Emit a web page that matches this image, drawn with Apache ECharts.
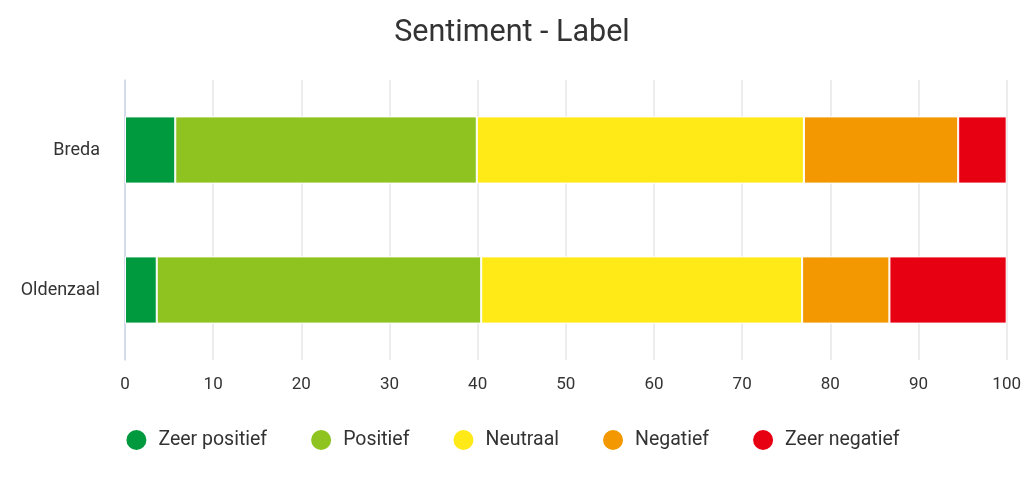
<!DOCTYPE html>
<html>
<head>
<meta charset="utf-8">
<script src="https://cdn.jsdelivr.net/npm/echarts@6/dist/echarts.min.js"></script>
<style>html,body{margin:0;padding:0;background:#fff}#c{width:1024px;height:486px}</style>
</head>
<body>
<div id="c"></div>
<script>
const categories = ["Breda", "Oldenzaal"];
const seriesNames = ["Zeer positief", "Positief", "Neutraal", "Negatief", "Zeer negatief"];
const zeerPositief = [5.7, 3.6];
const positief = [34.2, 36.8];
const neutraal = [37.1, 36.4];
const negatief = [17.5, 9.9];
const zeerNegatief = [5.5, 13.3];
const xTicks = [0, 10, 20, 30, 40, 50, 60, 70, 80, 90, 100];
const colors = ["#009a3e", "#8fc31f", "#ffea17", "#f39800", "#e60012"];

const values = [zeerPositief, positief, neutraal, negatief, zeerNegatief];
const chart = echarts.init(document.getElementById('c'));
const font = 'Roboto, "Noto Sans", sans-serif';
chart.setOption({
  animation: false,
  textStyle: { fontFamily: font },
  title: {
    text: "Sentiment - Label", left: 'center', top: 13,
    textStyle: { fontSize: 30.5, fontWeight: 'normal', color: '#333', fontFamily: font }
  },
  legend: {
    bottom: 29, left: 'center', icon: 'circle', itemWidth: 22, itemHeight: 22, itemGap: 42,
    textStyle: { fontSize: 19.5, color: '#333', fontFamily: font, padding: [0, 0, 0, 6] },
    data: seriesNames
  },
  grid: { left: 125, right: 17, top: 80, bottom: 126, containLabel: false },
  xAxis: {
    type: 'value', min: xTicks[0], max: xTicks[xTicks.length - 1], interval: 10,
    axisLine: { show: false }, axisTick: { show: false },
    axisLabel: { fontSize: 17, color: '#333', margin: 16, fontFamily: font },
    splitLine: { lineStyle: { color: '#e6e6e6', width: 1.5 } }
  },
  yAxis: {
    type: 'category', data: categories, inverse: true,
    axisLine: { show: true, lineStyle: { color: '#ccd6eb', width: 1.5 } },
    axisTick: { show: false },
    axisLabel: { fontSize: 18, color: '#333', margin: 25, fontFamily: font }
  },
  series: seriesNames.map((n, i) => ({
    name: n, type: 'bar', stack: 'total', data: values[i], barWidth: '48%',
    itemStyle: { color: colors[i], borderColor: '#fff', borderWidth: 1 }
  }))
});
</script>
</body>
</html>
